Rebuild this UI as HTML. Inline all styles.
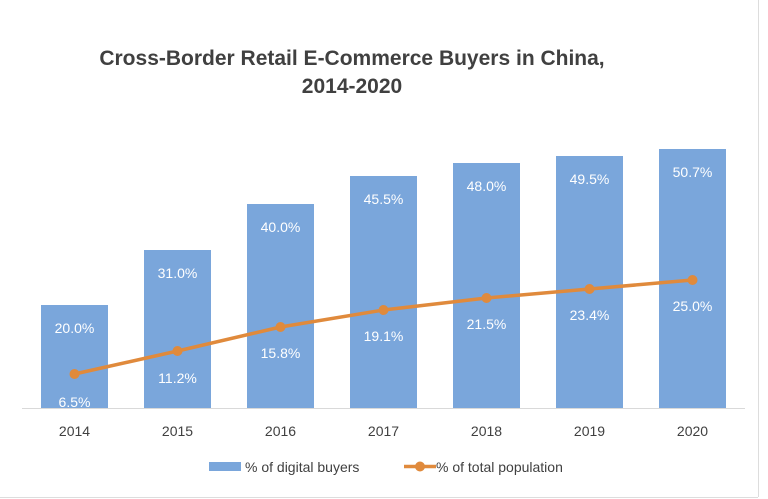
<!DOCTYPE html>
<html><head><style>body{margin:0;background:#fff}svg{display:block}</style></head><body>
<svg width="768" height="499" xmlns="http://www.w3.org/2000/svg" font-family="Liberation Sans, sans-serif">
<rect x="0" y="0" width="768" height="499" fill="#fff"/>
<line x1="758.5" y1="0" x2="758.5" y2="497" stroke="#ddd"/>
<line x1="0" y1="497.5" x2="758" y2="497.5" stroke="#ddd"/>
<text x="352" y="65" text-anchor="middle" font-size="21" font-weight="bold" fill="#404040">Cross-Border Retail E-Commerce Buyers in China,</text>
<text x="352" y="93" text-anchor="middle" font-size="21" font-weight="bold" fill="#404040">2014-2020</text>
<g fill="#7aa6db">
<rect x="41" y="305" width="67" height="103"/>
<rect x="144" y="250" width="67" height="158"/>
<rect x="247" y="204" width="67" height="204"/>
<rect x="350" y="176" width="67" height="232"/>
<rect x="453" y="163" width="67" height="245"/>
<rect x="556" y="156" width="67" height="252"/>
<rect x="659" y="149" width="67" height="259"/>
</g>
<line x1="22" y1="408.5" x2="745" y2="408.5" stroke="#d9d9d9"/>
<g font-size="14" fill="#fff" text-anchor="middle">
<text x="74.5" y="333">20.0%</text>
<text x="177.5" y="278">31.0%</text>
<text x="280.5" y="232">40.0%</text>
<text x="383.5" y="204">45.5%</text>
<text x="486.5" y="191">48.0%</text>
<text x="589.5" y="184">49.5%</text>
<text x="692.5" y="177">50.7%</text>
<text x="74.5" y="407">6.5%</text>
<text x="177.5" y="383">11.2%</text>
<text x="280.5" y="358">15.8%</text>
<text x="383.5" y="341">19.1%</text>
<text x="486.5" y="329">21.5%</text>
<text x="589.5" y="320">23.4%</text>
<text x="692.5" y="311">25.0%</text>
</g>
<polyline points="74.5,374 177.5,351 280.5,327 383.5,310 486.5,298 589.5,289 692.5,280" fill="none" stroke="#e08a3c" stroke-width="3.5"/>
<g fill="#e08a3c">
<circle cx="74.5" cy="374" r="5"/><circle cx="177.5" cy="351" r="5"/><circle cx="280.5" cy="327" r="5"/><circle cx="383.5" cy="310" r="5"/><circle cx="486.5" cy="298" r="5"/><circle cx="589.5" cy="289" r="5"/><circle cx="692.5" cy="280" r="5"/>
</g>
<g font-size="14" fill="#404040" text-anchor="middle">
<text x="74.5" y="436">2014</text><text x="177.5" y="436">2015</text><text x="280.5" y="436">2016</text><text x="383.5" y="436">2017</text><text x="486.5" y="436">2018</text><text x="589.5" y="436">2019</text><text x="692.5" y="436">2020</text>
</g>
<rect x="209" y="462" width="32" height="9" fill="#7aa6db"/>
<text x="245" y="472" font-size="14" fill="#404040">% of digital buyers</text>
<line x1="404" y1="466.5" x2="436" y2="466.5" stroke="#e08a3c" stroke-width="3.5"/>
<circle cx="420" cy="466.5" r="5" fill="#e08a3c"/>
<text x="436" y="472" font-size="14" fill="#404040">% of total population</text>
</svg>
</body></html>
